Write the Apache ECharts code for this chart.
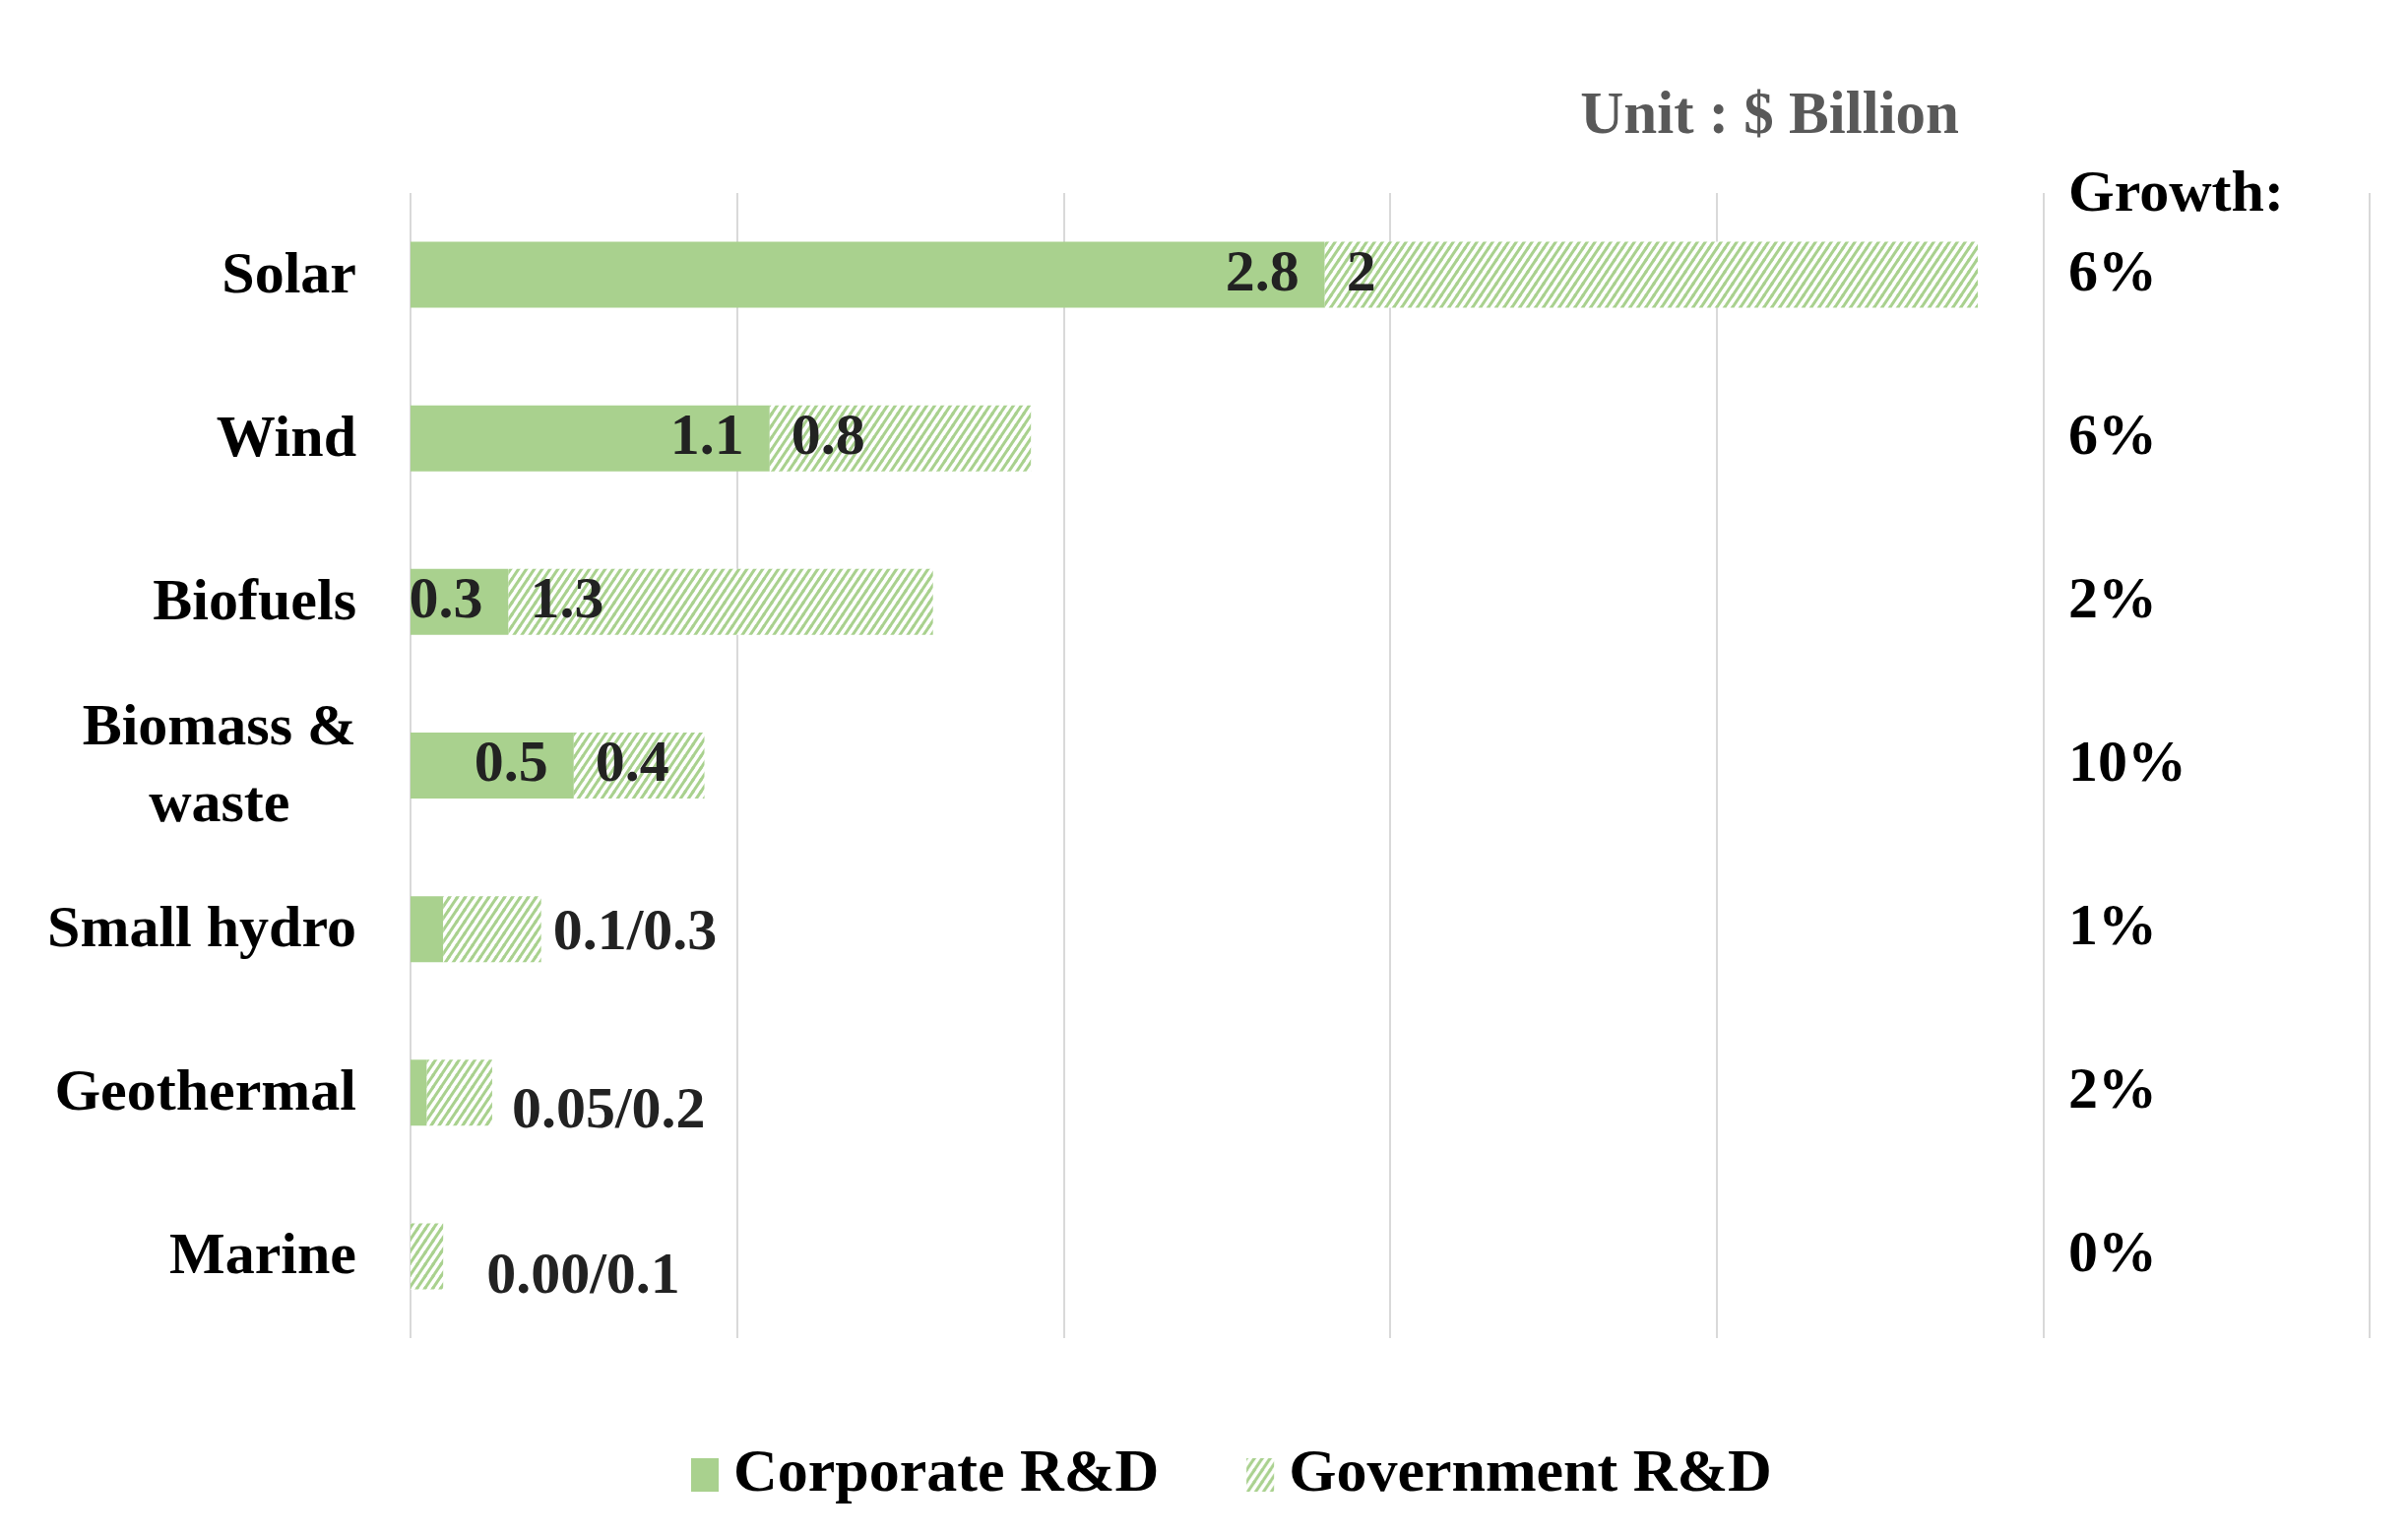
<!DOCTYPE html>
<html>
<head>
<meta charset="utf-8">
<script src="https://cdn.jsdelivr.net/npm/echarts@6/dist/echarts.min.js"></script>
<style>
html,body{margin:0;padding:0;background:#fff;}
#c{width:2446px;height:1560px;}
</style>
</head>
<body>
<div id="c"></div>
<script>
// ---- data ----
const categories = ['Solar', 'Wind', 'Biofuels', 'Biomass &\nwaste', 'Small hydro', 'Geothermal', 'Marine'];
const corporate = [2.8, 1.1, 0.3, 0.5, 0.1, 0.05, 0];
const government = [2, 0.8, 1.3, 0.4, 0.3, 0.2, 0.1];
const growth = ['6%', '6%', '2%', '10%', '1%', '2%', '0%'];
const combinedLabels = [null, null, null, null, '0.1/0.3', '0.05/0.2', '0.00/0.1'];
const xTicks = [0, 1, 2, 3, 4, 5, 6];

// ---- styling ----
const GREEN = '#a9d18e';
const FONT = '"Liberation Serif", "Times New Roman", serif';
const FS = 60;

function hatch() {
  const w = 8, h = 12;
  const cv = document.createElement('canvas');
  cv.width = w; cv.height = h;
  const ctx = cv.getContext('2d');
  ctx.fillStyle = '#ffffff';
  ctx.fillRect(0, 0, w, h);
  ctx.strokeStyle = GREEN;
  ctx.lineWidth = 3;
  ctx.lineCap = 'square';
  const segs = [[0, h, w, 0], [-w, h, 0, 0], [w, h, 2 * w, 0], [0, 2 * h, w, h], [0, 0, w, -h]];
  segs.forEach(s => { ctx.beginPath(); ctx.moveTo(s[0], s[1]); ctx.lineTo(s[2], s[3]); ctx.stroke(); });
  return cv;
}
const hatchColor = { image: hatch(), repeat: 'repeat' };

// small-bar label placement (style, not data)
const smallLabelOffsets = { 4: [0, 5], 5: [8, 20], 6: [32, 22] };

const corpData = corporate.map((v, i) => ({
  value: v,
  label: { show: combinedLabels[i] === null }
}));
const govData = government.map((v, i) => {
  if (combinedLabels[i] === null) return { value: v };
  return {
    value: v,
    label: {
      show: true,
      position: 'right',
      distance: 12,
      offset: smallLabelOffsets[i],
      formatter: combinedLabels[i]
    }
  };
});

const chart = echarts.init(document.getElementById('c'), null, { renderer: 'canvas' });
chart.setOption({
  backgroundColor: '#ffffff',
  animation: false,
  textStyle: { fontFamily: FONT },
  title: [
    {
      text: 'Unit : $ Billion',
      right: 2446 - 1990,
      top: 88,
      padding: 0,
      textStyle: { fontFamily: FONT, fontSize: 61, fontWeight: 'bold', color: '#595959', lineHeight: 62 }
    },
    {
      text: 'Growth:',
      left: 2101,
      top: 167,
      padding: 0,
      textStyle: { fontFamily: FONT, fontSize: FS, fontWeight: 'bold', color: '#000', lineHeight: 62 }
    }
  ],
  legend: {
    left: 697,
    top: 1462,
    icon: 'rect',
    itemWidth: 28,
    itemHeight: 34,
    itemGap: 89,
    data: ['Corporate R&D', 'Government R&D'],
    textStyle: { fontFamily: FONT, fontSize: 62, fontWeight: 'bold', color: '#000', padding: [0, 0, 0, 10] }
  },
  grid: { left: 417, right: 39, top: 196, bottom: 201, containLabel: false },
  xAxis: {
    type: 'value',
    min: xTicks[0],
    max: xTicks[xTicks.length - 1],
    interval: 1,
    axisLabel: { show: false },
    axisLine: { show: false },
    axisTick: { show: false },
    splitLine: { show: true, lineStyle: { color: '#d9d9d9', width: 2 } }
  },
  yAxis: [
    {
      type: 'category',
      inverse: true,
      data: categories,
      axisLine: { show: false },
      axisTick: { show: false },
      axisLabel: {
        margin: 55,
        color: '#000',
        fontFamily: FONT,
        fontSize: FS,
        fontWeight: 'bold',
        lineHeight: 78,
        formatter: v => v.split('\n').map(s => '{c|' + s + '}').join('\n'),
        rich: { c: { align: 'center', fontFamily: FONT, fontSize: FS, fontWeight: 'bold', color: '#000', lineHeight: 78, padding: [4, 0, 0, 0] } }
      }
    },
    {
      type: 'category',
      inverse: true,
      position: 'right',
      offset: -306,
      data: categories,
      axisLine: { show: false },
      axisTick: { show: false },
      axisLabel: {
        margin: 0,
        align: 'left',
        color: '#000',
        fontFamily: FONT,
        fontSize: FS,
        fontWeight: 'bold',
        padding: [4, 0, 0, 0],
        formatter: (v, i) => growth[i]
      }
    }
  ],
  series: [
    {
      name: 'Corporate R&D',
      type: 'bar',
      stack: 'rd',
      barWidth: 67,
      data: corpData,
      itemStyle: { color: GREEN },
      label: {
        show: true,
        position: 'insideRight',
        distance: 26,
        color: '#222',
        fontFamily: FONT,
        fontSize: FS,
        fontWeight: 'bold'
      }
    },
    {
      name: 'Government R&D',
      type: 'bar',
      stack: 'rd',
      barWidth: 67,
      data: govData,
      itemStyle: { color: hatchColor },
      label: {
        show: true,
        position: 'insideLeft',
        distance: 22,
        color: '#222',
        fontFamily: FONT,
        fontSize: FS,
        fontWeight: 'bold'
      }
    }
  ]
});
</script>
</body>
</html>
